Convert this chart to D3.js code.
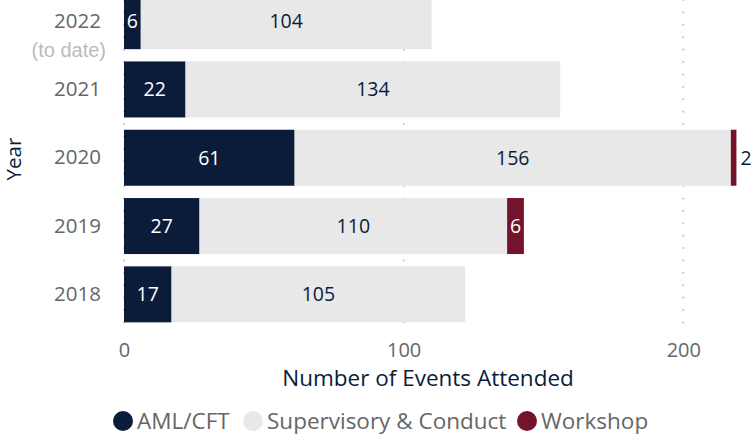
<!DOCTYPE html>
<html>
<head>
<meta charset="utf-8">
<script src="https://cdn.jsdelivr.net/npm/d3@7"></script>
<style>
  body { margin: 0; background: #fff; }
  svg { display: block; font-family: "Open Sans", sans-serif; }
</style>
</head>
<body>
<div id="chart"></div>
<script>
// datos
var years = ["2022", "2021", "2020", "2019", "2018"];
var amlCft = [6, 22, 61, 27, 17];
var supervisory = [104, 134, 156, 110, 105];
var workshop = [0, 0, 2, 6, 0];
var xTicks = [0, 100, 200];
var seriesNames = ["AML/CFT", "Supervisory & Conduct", "Workshop"];

var colors = { "AML/CFT": "#0b1c3b", "Supervisory & Conduct": "#e8e8e8", "Workshop": "#74142c" };
var labelColors = { "AML/CFT": "#fff", "Supervisory & Conduct": "#0b1c3b", "Workshop": "#fff" };

var svgWidth = 755, svgHeight = 443;

var table = years.map(function(y, i) {
  return { year: y, "AML/CFT": amlCft[i], "Supervisory & Conduct": supervisory[i], "Workshop": workshop[i] };
});

var stack = d3.stack().keys(seriesNames);
var series = stack(table);

var x = d3.scaleLinear()
    .domain([0, 200])
    .range([124, 683.3]);

var y = d3.scaleBand()
    .domain(years)
    .range([-13, 328.5])
    .paddingInner(0.18)
    .paddingOuter(0.09);

var svg = d3.select("#chart")
  .append("svg")
    .attr("width", svgWidth)
    .attr("height", svgHeight);

// lineas de cuadricula punteadas
svg.append("g")
  .selectAll("line")
  .data(xTicks)
  .join("line")
    .attr("x1", function(d) { return x(d); })
    .attr("x2", function(d) { return x(d); })
    .attr("y1", 0)
    .attr("y2", 330)
    .attr("stroke", "#c4c4c4")
    .attr("stroke-width", 2)
    .attr("stroke-linecap", "round")
    .attr("stroke-dasharray", "0.1,12.3");

// barras apiladas
var groups = svg.append("g")
  .selectAll("g")
  .data(series)
  .join("g")
    .attr("fill", function(d) { return colors[d.key]; });

groups.selectAll("rect")
  .data(function(d) { return d; })
  .join("rect")
    .attr("x", function(d) { return x(d[0]); })
    .attr("y", function(d) { return y(d.data.year); })
    .attr("width", function(d) { return x(d[1]) - x(d[0]); })
    .attr("height", y.bandwidth());

// etiquetas de valores
series.forEach(function(s) {
  svg.append("g")
    .selectAll("text")
    .data(s.filter(function(d) { return d[1] - d[0] > 0; }))
    .join("text")
      .attr("x", function(d) {
        var w = x(d[1]) - x(d[0]);
        return w < 12 ? x(d[1]) + 4 : (x(d[0]) + x(d[1])) / 2;
      })
      .attr("y", function(d) { return y(d.data.year) + y.bandwidth() / 2; })
      .attr("dy", "0.36em")
      .attr("text-anchor", function(d) { return x(d[1]) - x(d[0]) < 12 ? "start" : "middle"; })
      .style("font-size", "19.5px")
      .style("fill", function(d) { return x(d[1]) - x(d[0]) < 12 ? "#0b1c3b" : labelColors[s.key]; })
      .text(function(d) { return d[1] - d[0]; });
});

// eje Y
var yAxis = svg.append("g")
    .attr("transform", "translate(101,0)")
    .call(d3.axisLeft(y).tickSize(0).tickPadding(0));
yAxis.select(".domain").remove();
yAxis.selectAll("text")
    .style("font-size", "20.5px")
    .style("font-family", "Open Sans")
    .style("fill", "#666");
yAxis.selectAll(".tick")
  .filter(function(d) { return d === "2022"; })
  .append("text")
    .attr("x", 5)
    .attr("y", 29)
    .attr("dy", "0.32em")
    .attr("text-anchor", "end")
    .style("font-size", "20px")
    .style("fill", "#bbb")
    .text("(to date)");

// eje X
var xAxis = svg.append("g")
    .attr("transform", "translate(0,330)")
    .call(d3.axisBottom(x).tickValues(xTicks).tickSize(0).tickPadding(13));
xAxis.select(".domain").remove();
xAxis.selectAll("text")
    .style("font-size", "20px")
    .style("font-family", "Open Sans")
    .style("fill", "#666");

// titulos de ejes
svg.append("text")
    .attr("x", 428)
    .attr("y", 386)
    .attr("text-anchor", "middle")
    .style("font-size", "22.5px")
    .style("fill", "#0b1c3b")
    .text("Number of Events Attended");

svg.append("text")
    .attr("transform", "translate(21,159) rotate(-90)")
    .attr("text-anchor", "middle")
    .style("font-size", "20.5px")
    .style("fill", "#0b1c3b")
    .text("Year");

// leyenda
var legendX = [123, 253, 527];
var legend = svg.append("g")
  .selectAll("g")
  .data(seriesNames)
  .join("g")
    .attr("transform", function(d, i) { return "translate(" + legendX[i] + ",421)"; });

legend.append("circle")
    .attr("r", 10)
    .attr("fill", function(d) { return colors[d]; });

legend.append("text")
    .attr("x", 14)
    .attr("dy", "0.35em")
    .style("font-size", "22.5px")
    .style("fill", "#666")
    .text(function(d) { return d; });
</script>
</body>
</html>
